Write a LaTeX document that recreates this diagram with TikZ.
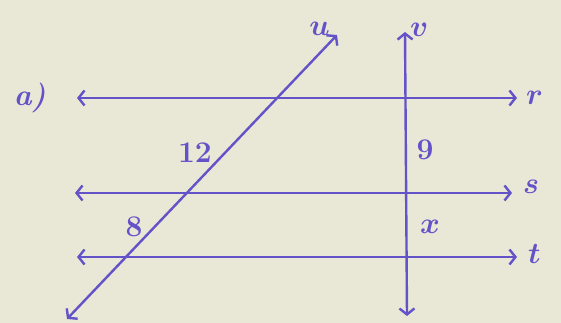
\RequirePackage{fix-cm}
\documentclass[tikz,border=0pt]{standalone}
\usepackage{tikz}
\usetikzlibrary{arrows.meta,positioning}
\definecolor{ink}{RGB}{100,82,200}
\definecolor{paper}{RGB}{233,231,214}
\tikzset{
  pline/.style ={{Straight Barb[length=6pt,width=15pt]}-{Straight Barb[length=6pt,width=15pt]},
                 ink, line width=2.4pt},
  plabel/.style={ink, inner sep=1pt, font=\fontsize{30}{30}\selectfont\boldmath},
}
\begin{document}
\begin{tikzpicture}[x=1pt,y=-1pt]

\fill[paper] (0,0) rectangle (561,323);
\useasboundingbox (0,0) rectangle (561,323);

% ends of the three parallels and the two transversals
\coordinate (rL) at (77,98);  \coordinate (rR) at (517,98);
\coordinate (sL) at (75,193); \coordinate (sR) at (512,193);
\coordinate (tL) at (77,257); \coordinate (tR) at (517,257);
\coordinate (uB) at (67,319); \coordinate (uT) at (337,35);
\coordinate (vB) at (407,316); \coordinate (vT) at (405,32);

\draw[pline] (rL) -- (rR);
\draw[pline] (sL) -- (sR);
\draw[pline] (tL) -- (tR);
\draw[pline] (uB) -- (uT);
\draw[pline] (vB) -- (vT);

\node[plabel, right=8pt of rR] (r) {$r$};
\node[plabel, above right=-2pt and 10pt of sR] (s) {$s$};
\node[plabel, right=10pt of tR, yshift=3pt] (t) {$t$};
\node[plabel, above right=-6pt and 4pt of vT] (v) {$v$};
\node[plabel, above left=-2pt and 6pt of uT] (u) {$u$};
\node[plabel, left=30pt of rL] (a) {\textit{\textbf{a)}}};

% segment lengths
\node[plabel] (l12) at (195,153) {$12$};
\node[plabel] (l8)  at (134,227) {$8$};
\node[plabel] (l9)  at (425,150) {$9$};
\node[plabel] (lx)  at (430,227) {$x$};

\end{tikzpicture}
\end{document}
